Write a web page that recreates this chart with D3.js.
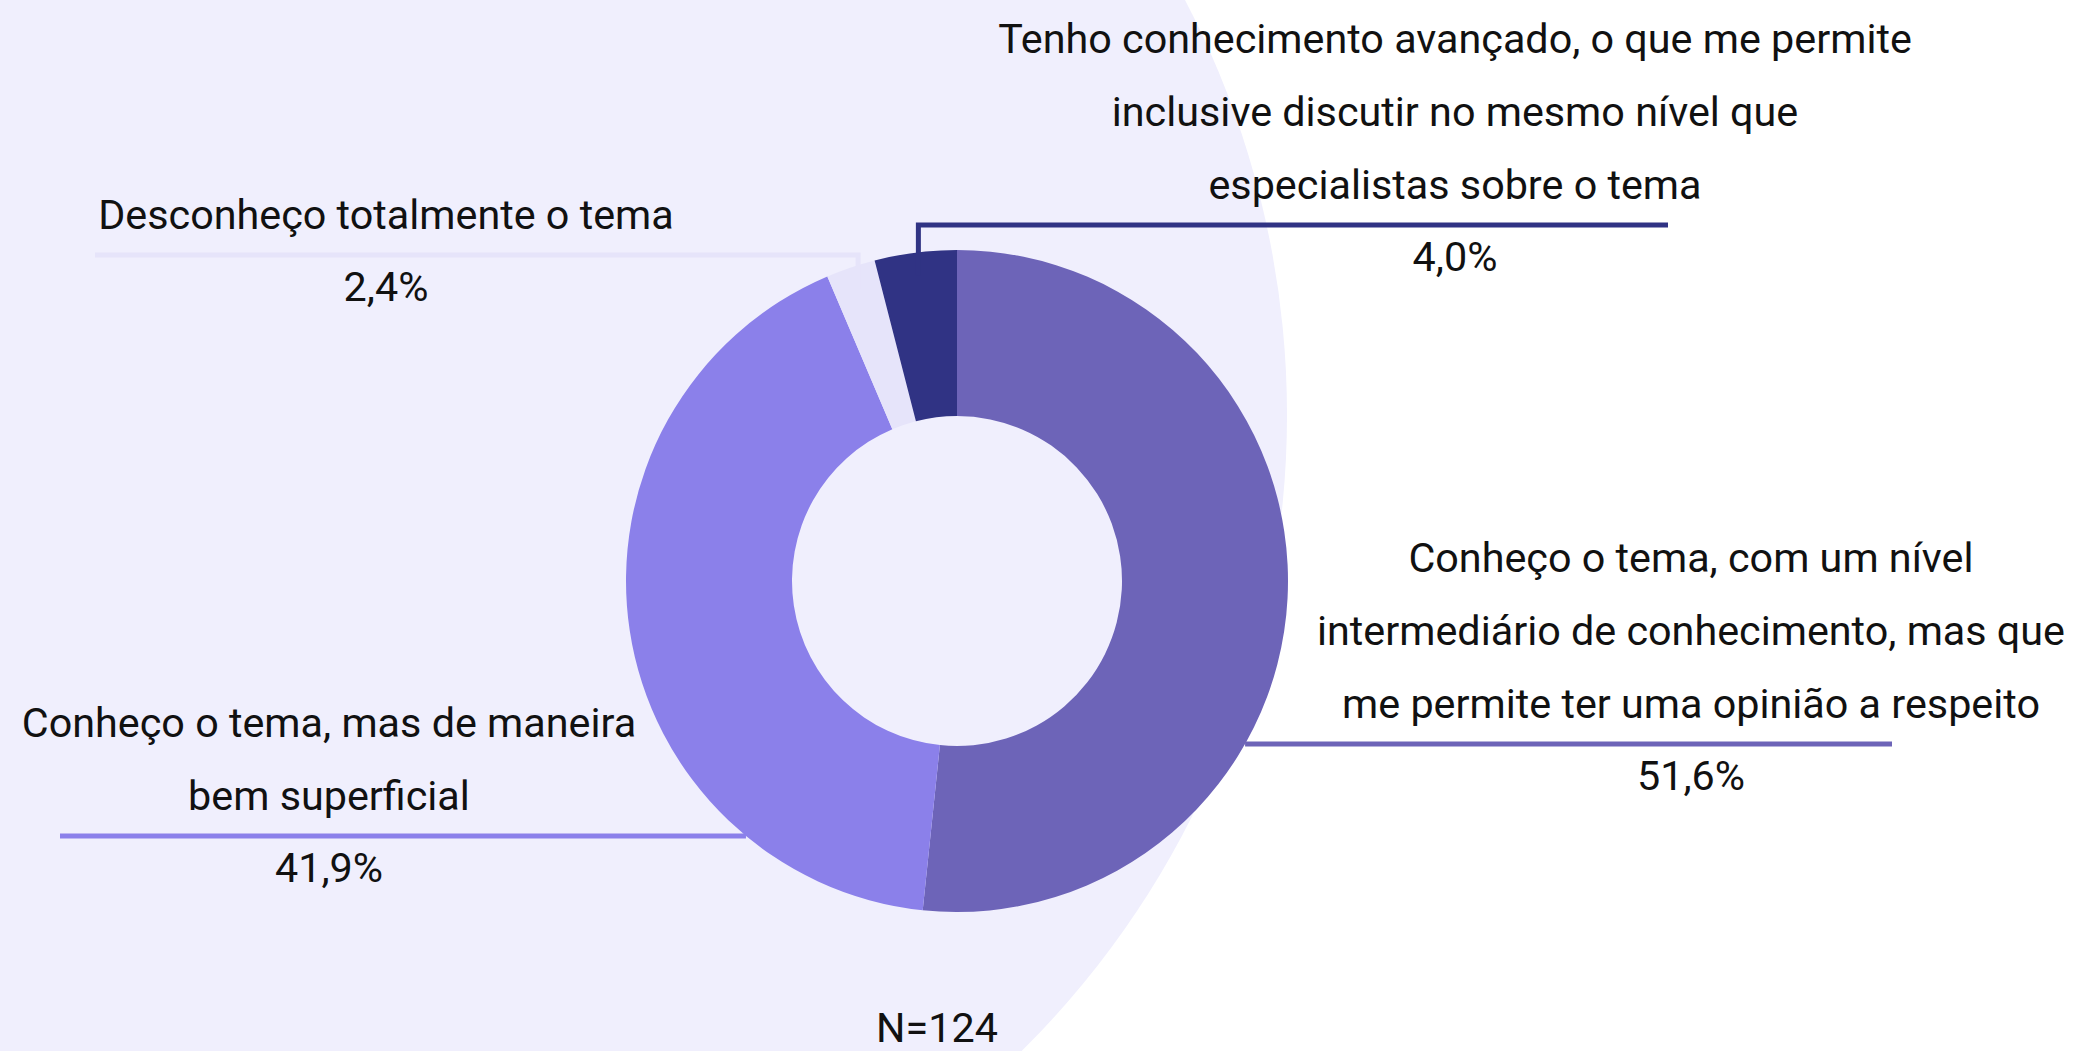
<!DOCTYPE html>
<html>
<head>
<meta charset="utf-8">
<script src="https://cdn.jsdelivr.net/npm/d3@7"></script>
<style>
  html, body { margin: 0; padding: 0; background: #ffffff; }
  svg { display: block; }
</style>
</head>
<body>
<svg id="chart"></svg>
<script>
// data
const categories = [
  "Conheço o tema, com um nível|intermediário de conhecimento, mas que|me permite ter uma opinião a respeito",
  "Conheço o tema, mas de maneira|bem superficial",
  "Desconheço totalmente o tema",
  "Tenho conhecimento avançado, o que me permite|inclusive discutir no mesmo nível que|especialistas sobre o tema"
];
const shares = [51.6, 41.9, 2.4, 4.0];
const sliceColors = ["#6d64b8", "#8b80ea", "#e6e4fa", "#303384"];
const sampleNote = "N=124";

const W = 2076, H = 1051;
const cx = 957, cy = 581, outerR = 331, innerR = 165;

// where each label sits (leader line y, text centre x, line ends)
const layout = [
  { kind: "right", lineY: 744, x2: 1892, textX: 1691 },
  { kind: "left",  lineY: 836, x1: 60,   textX: 329 },
  { kind: "elbowLeft",  lineY: 255, x1: 95,   textX: 386 },
  { kind: "elbowRight", lineY: 225, x2: 1668, textX: 1455 }
];

const svg = d3.select("#chart").attr("width", W).attr("height", H);

// big lavender disc behind everything
svg.append("circle")
  .attr("cx", 392).attr("cy", 415).attr("r", 895)
  .attr("fill", "#f0effd");

const pie = d3.pie().sort(null).value(d => d)
  .startAngle(0).endAngle(2 * Math.PI);
const arcs = pie(shares);
const arc = d3.arc().innerRadius(innerR).outerRadius(outerR);

const g = svg.append("g").attr("transform", `translate(${cx},${cy})`);

g.selectAll("path.slice")
  .data(arcs)
  .enter()
  .append("path")
  .attr("class", "slice")
  .attr("d", arc)
  .attr("fill", (d, i) => sliceColors[i]);

const fmt = v => d3.format(".1f")(v).replace(".", ",") + "%";

// leader lines
arcs.forEach((a, i) => {
  const L = layout[i];
  let pts;
  if (L.kind === "right" || L.kind === "left") {
    const dy = L.lineY - cy;
    const dx = Math.sqrt(outerR * outerR - dy * dy);
    const edgeX = L.kind === "right" ? cx + dx : cx - dx;
    pts = L.kind === "right" ? [[edgeX, L.lineY], [L.x2, L.lineY]] : [[L.x1, L.lineY], [edgeX, L.lineY]];
  } else {
    const mid = (a.startAngle + a.endAngle) / 2;
    const r = outerR * 0.93;
    const px = cx + r * Math.sin(mid);
    const py = cy - r * Math.cos(mid);
    const endX = L.kind === "elbowLeft" ? L.x1 : L.x2;
    pts = [[px, py], [px, L.lineY], [endX, L.lineY]];
  }
  svg.append("path")
    .attr("d", d3.line()(pts))
    .attr("fill", "none")
    .attr("stroke", sliceColors[i])
    .attr("stroke-width", 5);
});

// labels
const fontFam = "Roboto, 'Noto Sans', sans-serif";
const fontSize = 41.3;
const lineGap = 73;
categories.forEach((c, i) => {
  const L = layout[i];
  const lines = c.split("|");
  const t = svg.append("text")
    .attr("text-anchor", "middle")
    .attr("font-family", fontFam)
    .attr("font-size", fontSize)
    .attr("fill", "#111");
  lines.forEach((ln, j) => {
    t.append("tspan")
      .attr("x", L.textX)
      .attr("y", L.lineY - 26 - (lines.length - 1 - j) * lineGap)
      .text(ln);
  });
  svg.append("text")
    .attr("x", L.textX)
    .attr("y", L.lineY + 46)
    .attr("text-anchor", "middle")
    .attr("font-family", fontFam)
    .attr("font-size", fontSize)
    .attr("fill", "#111")
    .text(fmt(shares[i]));
});

svg.append("text")
  .attr("x", 937).attr("y", 1042)
  .attr("text-anchor", "middle")
  .attr("font-family", fontFam)
  .attr("font-size", fontSize)
  .attr("fill", "#111")
  .text(sampleNote);
</script>
</body>
</html>
